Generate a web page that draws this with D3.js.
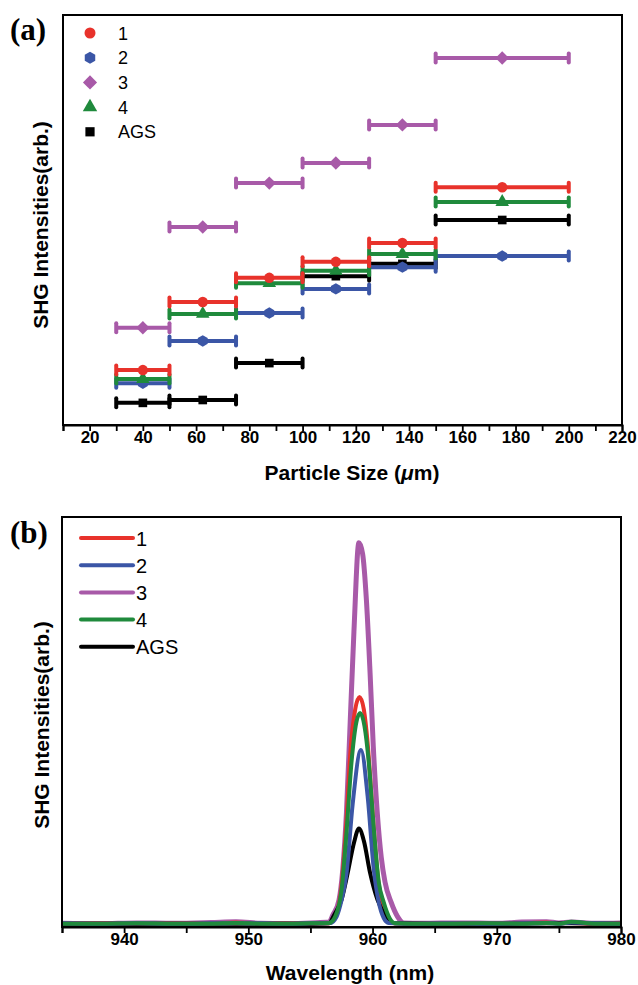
<!DOCTYPE html>
<html>
<head>
<meta charset="utf-8">
<script src="https://cdn.jsdelivr.net/npm/d3@7"></script>
<style>
  body { margin: 0; background: #fff; }
  text { font-family: "Liberation Sans", Arial, sans-serif; }
</style>
</head>
<body>
<svg id="chart" width="638" height="985"></svg>
<script>
// ---- panel (a) data: particle size ranges and SHG intensity (arb.)
const sizeLow = [30, 50, 75, 100, 125, 150];
const sizeHigh = [50, 75, 100, 125, 150, 200];
const sizeMid = [40, 62.5, 87.5, 112.5, 137.5, 175];
const shg1 = [13.4, 30.0, 35.9, 39.8, 44.4, 58.0];
const shg2 = [10.2, 20.5, 27.3, 33.2, 38.5, 41.2];
const shg3 = [23.7, 48.3, 59.0, 63.9, 73.2, 89.5];
const shg4 = [11.2, 27.1, 34.6, 37.6, 41.7, 54.4];
const shgAGS = [5.4, 6.1, 15.1, 36.3, 39.3, 50.0];
const sizeTicks = [20, 40, 60, 80, 100, 120, 140, 160, 180, 200, 220];

// ---- panel (b) data: SHG spectra
const wl1 = [935, 938, 941, 944, 947, 949, 951, 953, 955, 956.5, 957, 957.5, 957.9, 958.2, 958.6, 958.95, 959.3, 959.6, 960, 960.4, 960.8, 961.3, 961.7, 963, 966, 969, 972, 974, 975, 976, 978, 980];
const int1 = [0.8, 0.9, 0.8, 0.9, 0.8, 1.1, 0.8, 0.9, 0.8, 0.9, 2.5, 10, 26, 42, 53, 56.1, 53, 45, 28, 13, 5, 1.6, 0.9, 0.8, 0.9, 0.8, 0.9, 1.1, 0.9, 1.0, 0.8, 0.9];
const wl2 = [935, 938, 941, 944, 947, 949, 951, 953, 955, 956.6, 957.1, 957.5, 957.9, 958.4, 959.07, 959.6, 960.1, 960.5, 960.9, 961.3, 963, 966, 969, 972, 974, 975, 976, 978, 980];
const int2 = [0.9, 0.8, 0.9, 0.8, 0.9, 1.0, 0.9, 0.8, 0.9, 1.0, 2.5, 6.5, 13, 30, 43.2, 32, 14, 6, 2.2, 1.0, 0.8, 0.9, 0.8, 0.9, 1.0, 0.8, 1.1, 0.9, 0.8];
const wl3 = [935, 938, 941, 944, 947, 949, 951, 953, 955, 956.5, 956.8, 957.3, 957.6, 957.9, 958.2, 958.5, 958.9, 959.2, 959.5, 959.8, 960.06, 960.4, 960.7, 961.0, 961.5, 962.0, 962.5, 964, 967, 970, 972, 974, 975, 976, 978, 980];
const int3 = [0.9, 0.8, 1.0, 0.9, 1.1, 1.3, 0.9, 0.8, 1.0, 1.2, 2.9, 6.6, 14, 28, 50, 72, 93.7, 91, 80, 62, 44, 27, 17, 11, 6.0, 2.6, 1.0, 0.9, 1.0, 0.9, 1.2, 1.3, 1.0, 1.2, 0.9, 1.0];
const wl4 = [935, 938, 941, 944, 947, 949, 951, 953, 955, 956.5, 957, 957.5, 957.9, 958.3, 958.7, 959.0, 959.35, 959.7, 960.1, 960.5, 960.9, 961.4, 961.8, 963, 966, 969, 972, 974, 975, 976, 978, 980];
const int4 = [0.8, 0.8, 0.9, 0.8, 0.8, 1.0, 0.8, 0.8, 0.9, 1.0, 2.6, 9, 23, 40, 50, 52.2, 49, 40, 24, 11, 6, 2, 0.9, 0.8, 0.8, 0.9, 0.8, 1.0, 0.8, 1.3, 0.8, 0.8];
const wlAGS = [935, 940, 945, 950, 955, 956.5, 956.9, 957.5, 958.0, 958.5, 958.9, 959.3, 959.8, 960.4, 961.0, 961.4, 961.8, 965, 970, 975, 980];
const intAGS = [0.8, 0.8, 0.8, 0.8, 0.8, 0.9, 2.9, 6.6, 13.2, 20.5, 24, 21, 13.2, 6.6, 2.9, 1.2, 0.9, 0.8, 0.8, 0.9, 0.8];
const wlTicks = [940, 950, 960, 970, 980];

const names = ["1", "2", "3", "4", "AGS"];
const colors = ["#e8322b", "#3b56a6", "#a85aa8", "#1f8a3c", "#000000"];

const svg = d3.select("#chart");

// custom hexagon marker for series 2
const symbolHex = {
  draw(ctx, size) {
    const r = Math.sqrt(size / (1.5 * Math.sqrt(3)));
    for (let i = 0; i < 6; i++) {
      const a = Math.PI / 3 * i + Math.PI / 6;
      if (i === 0) ctx.moveTo(r * Math.cos(a), r * Math.sin(a));
      else ctx.lineTo(r * Math.cos(a), r * Math.sin(a));
    }
    ctx.closePath();
  }
};
const symbolTypes = [d3.symbolCircle, symbolHex, d3.symbolSquare, d3.symbolTriangle, d3.symbolSquare];
const symbolRot = [0, 0, 45, 0, 0];
const symbolSize = [85, 85, 90, 80, 75];

// =============== panel (a) =================
const xA = d3.scaleLinear().domain([10, 220]).range([63, 622]);
const yA = d3.scaleLinear().domain([0, 100]).range([425, 15]);

const gA = svg.append("g");

const seriesA = [shg1, shg2, shg3, shg4, shgAGS];
const drawOrderA = [2, 4, 1, 3, 0];
drawOrderA.forEach(si => {
  const vals = seriesA[si];
  const g = gA.append("g").attr("stroke", colors[si]).attr("fill", colors[si]);
  vals.forEach((v, i) => {
    g.append("line")
      .attr("x1", xA(sizeLow[i])).attr("x2", xA(sizeHigh[i]))
      .attr("y1", yA(v)).attr("y2", yA(v))
      .attr("stroke-width", 4);
    [sizeLow[i], sizeHigh[i]].forEach(e => {
      g.append("line")
        .attr("x1", xA(e)).attr("x2", xA(e))
        .attr("y1", yA(v) - 4.5).attr("y2", yA(v) + 4.5)
        .attr("stroke-width", 4)
        .attr("stroke-linecap", "round");
    });
    g.append("path")
      .attr("d", d3.symbol().type(symbolTypes[si]).size(symbolSize[si])())
      .attr("stroke", "none")
      .attr("transform", `translate(${xA(sizeMid[i])},${yA(v)}) rotate(${symbolRot[si]})`);
  });
});

// frame and axes
gA.append("rect").attr("x", 63).attr("y", 15).attr("width", 559).attr("height", 410)
  .attr("fill", "none").attr("stroke", "#000").attr("stroke-width", 2);

const axA = gA.append("g").attr("transform", "translate(0,425)")
  .call(d3.axisBottom(xA).tickValues(d3.range(10, 221, 10)).tickSize(6)
    .tickFormat(d => sizeTicks.includes(d) ? d : ""));
axA.select(".domain").attr("stroke-width", 2);
axA.selectAll(".tick line").attr("stroke-width", 1.8);
axA.selectAll(".tick text")
  .attr("font-family", "Liberation Sans, Arial, sans-serif")
  .attr("font-weight", "bold").attr("font-size", 17).attr("dy", "0.5em").attr("fill", "#000");

gA.append("text").attr("x", 352).attr("y", 480).attr("text-anchor", "middle")
  .attr("font-weight", "bold").attr("font-size", 21)
  .html('Particle Size (<tspan font-style="italic">μ</tspan>m)');

gA.append("text").attr("transform", "translate(48,225) rotate(-90)").attr("text-anchor", "middle")
  .attr("font-weight", "bold").attr("font-size", 21).text("SHG Intensities(arb.)");

gA.append("text").attr("x", 10).attr("y", 40)
  .style("font-family", "'Liberation Serif', 'Times New Roman', serif")
  .attr("font-weight", "bold").attr("font-size", 31).text("(a)");

// legend (a)
const legA = gA.append("g");
names.forEach((n, i) => {
  const cy = 33 + i * 24.7;
  legA.append("path")
    .attr("d", d3.symbol().type(symbolTypes[i]).size(symbolSize[i] + 10)())
    .attr("fill", colors[i])
    .attr("transform", `translate(90,${cy}) rotate(${symbolRot[i]})`);
  legA.append("text").attr("x", 118).attr("y", cy + 6.5)
    .attr("font-size", 18).text(n);
});

// =============== panel (b) =================
const xB = d3.scaleLinear().domain([935, 980]).range([62, 621]);
const yB = d3.scaleLinear().domain([0, 100]).range([927, 517]);

const gB = svg.append("g");
const wls = [wl1, wl2, wl3, wl4, wlAGS];
const ints = [int1, int2, int3, int4, intAGS];
const line = d3.line().curve(d3.curveMonotoneX).x(d => xB(d[0])).y(d => yB(d[1]));

gB.append("defs").append("clipPath").attr("id", "clipB")
  .append("rect").attr("x", 62).attr("y", 517).attr("width", 559).attr("height", 410);

const drawOrderB = [2, 0, 4, 1, 3];
drawOrderB.forEach(si => {
  const pts = wls[si].map((w, i) => [w, ints[si][i]]);
  gB.append("path").attr("d", line(pts))
    .attr("fill", "none").attr("stroke", colors[si])
    .attr("stroke-width", si === 2 ? 5 : 4)
    .attr("stroke-linejoin", "round")
    .attr("clip-path", "url(#clipB)");
});

gB.append("rect").attr("x", 62).attr("y", 517).attr("width", 559).attr("height", 410)
  .attr("fill", "none").attr("stroke", "#000").attr("stroke-width", 2);

const axB = gB.append("g").attr("transform", "translate(0,927)")
  .call(d3.axisBottom(xB).tickValues(d3.range(935, 981, 5)).tickSize(6)
    .tickFormat(d => wlTicks.includes(d) ? d : ""));
axB.select(".domain").attr("stroke-width", 2);
axB.selectAll(".tick line").attr("stroke-width", 1.8);
axB.selectAll(".tick text")
  .attr("font-family", "Liberation Sans, Arial, sans-serif")
  .attr("font-weight", "bold").attr("font-size", 17).attr("dy", "0.5em").attr("fill", "#000");

gB.append("text").attr("x", 350).attr("y", 980).attr("text-anchor", "middle")
  .attr("font-weight", "bold").attr("font-size", 21).text("Wavelength (nm)");

gB.append("text").attr("transform", "translate(49,725) rotate(-90)").attr("text-anchor", "middle")
  .attr("font-weight", "bold").attr("font-size", 21).text("SHG Intensities(arb.)");

gB.append("text").attr("x", 10).attr("y", 543)
  .style("font-family", "'Liberation Serif', 'Times New Roman', serif")
  .attr("font-weight", "bold").attr("font-size", 31).text("(b)");

// legend (b)
const legB = gB.append("g");
names.forEach((n, i) => {
  const cy = 538 + i * 27.2;
  legB.append("line").attr("x1", 81).attr("x2", 133).attr("y1", cy).attr("y2", cy)
    .attr("stroke", colors[i]).attr("stroke-width", 4).attr("stroke-linecap", "round");
  legB.append("text").attr("x", 136).attr("y", cy + 7.5)
    .attr("font-size", 20).text(n);
});
</script>
</body>
</html>
